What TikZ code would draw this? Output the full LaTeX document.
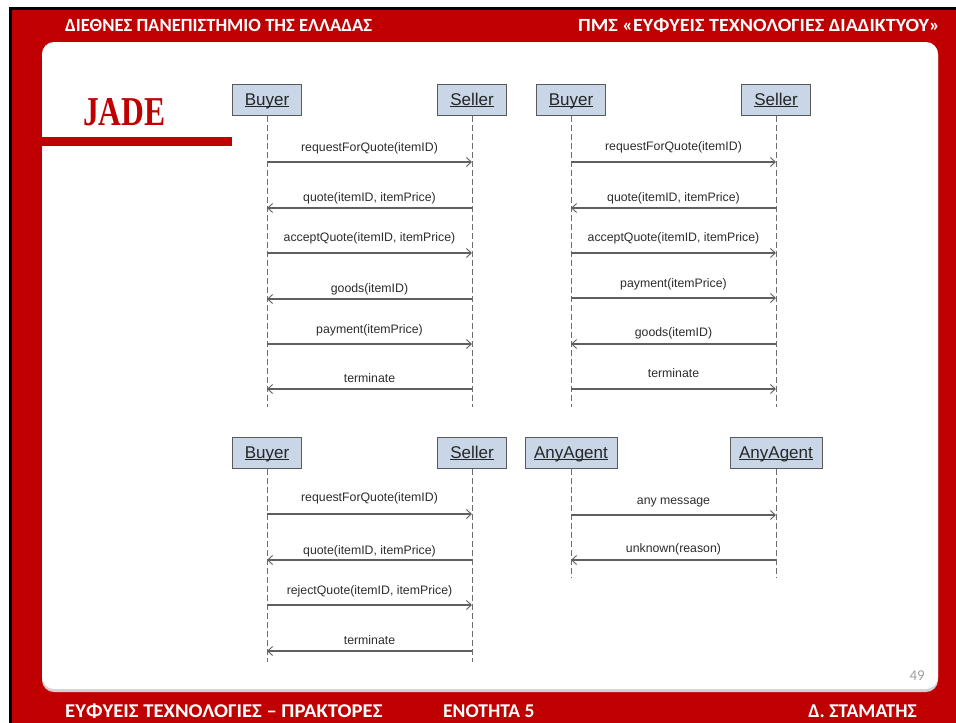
\documentclass[tikz,border=0pt]{standalone}
\usepackage{fontspec}
\setmainfont{Carlito}
\newfontfamily\arialfont{Liberation Sans}
\newfontfamily\titleserif{Liberation Serif}
\usetikzlibrary{arrows.meta,calc}

\definecolor{slidered}{RGB}{192,0,0}
\definecolor{actorfill}{RGB}{200,214,231}
\definecolor{actorline}{RGB}{90,90,90}
\definecolor{msgline}{RGB}{95,95,95}
\definecolor{lifegray}{RGB}{110,110,110}
\definecolor{labeltext}{RGB}{45,45,45}
\definecolor{pagegray}{RGB}{160,160,160}

% underlined actor name, rule placed just under the baseline
\newcommand\actorname[1]{\underline{\smash{#1}}}

\tikzset{
  actor/.style={draw=actorline, line width=0.9pt, fill=actorfill,
    minimum width=69pt, minimum height=31pt, inner sep=0pt,
    text height=12pt, text depth=2pt,
    font=\arialfont\fontsize{17}{19}\selectfont, text=black!85},
  lifeline/.style={draw=lifegray, line width=0.9pt, dash pattern=on 6pt off 3pt},
  msg/.style={draw=msgline, line width=1.1pt,
    -{Straight Barb[length=5pt,width=9pt,line width=0.9pt]}},
  msglabel/.style={anchor=base, inner sep=0pt, text=labeltext,
    font=\arialfont\fontsize{12.3}{14}\selectfont},
  headtext/.style={inner sep=0pt, text=white,
    font=\bfseries\fontsize{18.6}{20}\selectfont},
  foottext/.style={inner sep=0pt, text=white,
    font=\bfseries\fontsize{19.5}{21}\selectfont}
}

% message between two lifelines: from, to, arrow y, label y, text
\newcommand\seqmsg[5]{%
  \draw[msg] (#1 |- 0,#3) -- (#2 |- 0,#3);
  \node[msglabel] at ($(#1 |- 0,#4)!0.5!(#2 |- 0,#4)$) {#5};
}

\begin{document}
\begin{tikzpicture}[x=1pt,y=-1pt]
\useasboundingbox (0,0) rectangle (956,723);

% slide frame
\fill[white] (0,0) rectangle (956,723);
\fill[black] (9,7) rectangle (956,723);
\fill[slidered] (12,10) rectangle (956,723);
\fill[black!18, rounded corners=12pt] (42,43) rectangle (938,692);
\fill[white, rounded corners=12pt] (42,42) rectangle (938,689);

% header and footer
\node[headtext, anchor=base west] (hl) at (65,31) {ΔΙΕΘΝΕΣ ΠΑΝΕΠΙΣΤΗΜΙΟ ΤΗΣ ΕΛΛΑΔΑΣ};
\node[headtext, anchor=base east, xscale=1.08] (hr) at (940,31) {ΠΜΣ «ΕΥΦΥΕΙΣ ΤΕΧΝΟΛΟΓΙΕΣ ΔΙΑΔΙΚΤΥΟΥ»};
\node[foottext, anchor=base west, xscale=1.06] (fl) at (65,717) {ΕΥΦΥΕΙΣ ΤΕΧΝΟΛΟΓΙΕΣ – ΠΡΑΚΤΟΡΕΣ};
\node[foottext, anchor=base west] (fm) at (443,717) {ΕΝΟΤΗΤΑ 5};
\node[foottext, anchor=base east] (fr) at (917,717) {Δ. ΣΤΑΜΑΤΗΣ};
\node[anchor=base east, inner sep=0pt, text=pagegray,
  font=\fontsize{15}{17}\selectfont] (pg) at (925,680) {49};

% title
\fill[slidered] (42,137) rectangle (232,146);
\node[anchor=base west, inner sep=0pt, text=slidered, xscale=0.77,
  font=\titleserif\bfseries\fontsize{41}{44}\selectfont] (title) at (83,125) {JADE};

% actors
\node[actor] (B1) at (267,100) {\actorname{Buyer}};
\node[actor] (S1) at (472,100) {\actorname{Seller}};
\node[actor] (B2) at (571,100) {\actorname{Buyer}};
\node[actor] (S2) at (776,100) {\actorname{Seller}};
\node[actor] (B3) at (267,453) {\actorname{Buyer}};
\node[actor] (S3) at (472,453) {\actorname{Seller}};
\node[actor, minimum width=92pt] (A1) at (571,453) {\actorname{AnyAgent}};
\node[actor, minimum width=92pt] (A2) at (776,453) {\actorname{AnyAgent}};

% lifeline ends
\coordinate (B1e) at (B1.south |- 0,407);
\coordinate (S1e) at (S1.south |- 0,407);
\coordinate (B2e) at (B2.south |- 0,407);
\coordinate (S2e) at (S2.south |- 0,407);
\coordinate (B3e) at (B3.south |- 0,662);
\coordinate (S3e) at (S3.south |- 0,662);
\coordinate (A1e) at (A1.south |- 0,578);
\coordinate (A2e) at (A2.south |- 0,578);

\foreach \a in {B1,S1,B2,S2,B3,S3,A1,A2}
  \draw[lifeline] (\a.south) -- (\a e);

% purchase with goods before payment
\seqmsg{B1}{S1}{162}{151}{requestForQuote(itemID)}
\seqmsg{S1}{B1}{208}{201}{quote(itemID, itemPrice)}
\seqmsg{B1}{S1}{253}{241}{acceptQuote(itemID, itemPrice)}
\seqmsg{S1}{B1}{299}{292}{goods(itemID)}
\seqmsg{B1}{S1}{344}{333}{payment(itemPrice)}
\seqmsg{S1}{B1}{389}{382}{terminate}

% purchase with payment before goods
\seqmsg{B2}{S2}{162}{150}{requestForQuote(itemID)}
\seqmsg{S2}{B2}{208}{201}{quote(itemID, itemPrice)}
\seqmsg{B2}{S2}{253}{241}{acceptQuote(itemID, itemPrice)}
\seqmsg{B2}{S2}{298}{287}{payment(itemPrice)}
\seqmsg{S2}{B2}{344}{336}{goods(itemID)}
\seqmsg{B2}{S2}{389}{377}{terminate}

% rejected quote
\seqmsg{B3}{S3}{514}{501}{requestForQuote(itemID)}
\seqmsg{S3}{B3}{560}{554}{quote(itemID, itemPrice)}
\seqmsg{B3}{S3}{605}{594}{rejectQuote(itemID, itemPrice)}
\seqmsg{S3}{B3}{651}{644}{terminate}

% unknown message
\seqmsg{A1}{A2}{515}{504}{any message}
\seqmsg{A2}{A1}{560}{552}{unknown(reason)}
\end{tikzpicture}
\end{document}
